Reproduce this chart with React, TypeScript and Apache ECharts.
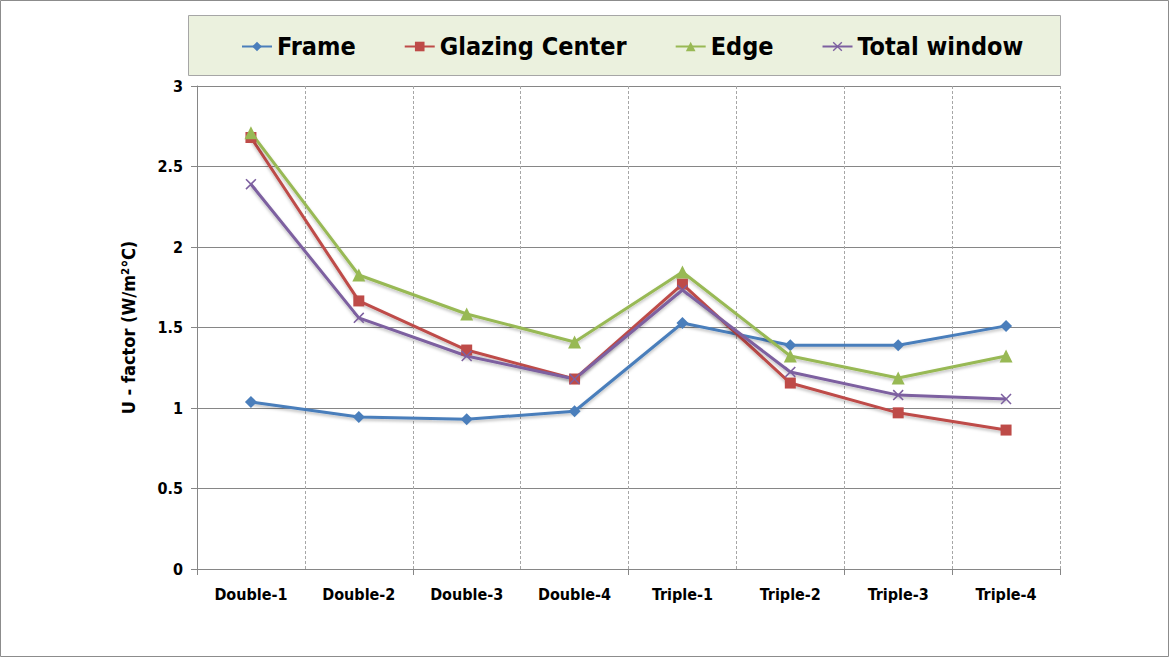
import React, { useEffect, useRef } from "react";
import * as echarts from "echarts";

const categories = ["Double-1", "Double-2", "Double-3", "Double-4", "Triple-1", "Triple-2", "Triple-3", "Triple-4"];
const frame = [1.037, 0.944, 0.93, 0.98, 1.528, 1.39, 1.39, 1.51];
const glazingCenter = [2.68, 1.665, 1.36, 1.18, 1.77, 1.155, 0.97, 0.863];
const edge = [2.71, 1.826, 1.584, 1.41, 1.845, 1.323, 1.186, 1.323];
const totalWindow = [2.39, 1.56, 1.323, 1.18, 1.733, 1.224, 1.08, 1.056];

const FONT = "'Liberation Sans Narrow', 'DejaVu Sans Condensed', 'Liberation Sans', sans-serif";
const XSYM = "path://M1,0 L5,4 L9,0 L10,1 L6,5 L10,9 L9,10 L5,6 L1,10 L0,9 L4,5 L0,1 Z";

export default function App() {
  const ref = useRef<HTMLDivElement>(null);
  useEffect(() => {
    const chart = echarts.init(ref.current!, null, { renderer: "svg" });
    const mk = (name: string, data: number[], color: string, symbol: string, size: number) => ({
      name,
      type: "line",
      data,
      symbol,
      symbolSize: size,
      lineStyle: { color, width: 3, shadowColor: "rgba(0,0,0,0.25)", shadowBlur: 3, shadowOffsetY: 2 },
      itemStyle: { color },
    });
    chart.setOption({
      animation: false,
      backgroundColor: "#ffffff",
      graphic: [
        { type: "rect", shape: { x: 0.5, y: 0.5, width: 1168, height: 656 }, style: { fill: "none", stroke: "#8c8c8c", lineWidth: 1 }, z: -10 },
        { type: "rect", shape: { x: 188.5, y: 15.5, width: 872, height: 60 }, style: { fill: "#EBF1DE", stroke: "#A6A6A6", lineWidth: 1 }, z: -5 },
      ],
      legend: {
        top: 29,
        left: 236,
        itemWidth: 30,
        itemHeight: 12,
        itemGap: 48,
        textStyle: { fontFamily: FONT, fontWeight: "bold", fontSize: 25, color: "#000" },
        data: ["Frame", "Glazing Center", "Edge", "Total window"],
      },
      grid: { left: 197, right: 110, top: 86, bottom: 89, containLabel: false },
      xAxis: {
        type: "category",
        data: categories,
        boundaryGap: true,
        axisLine: { lineStyle: { color: "#868686", width: 1 } },
        axisTick: { show: true, interval: 1, length: 6, lineStyle: { color: "#868686" } },
        axisLabel: { interval: 0, margin: 17, fontFamily: FONT, fontWeight: "bold", fontSize: 16, color: "#000" },
        splitLine: { show: true, interval: 0, lineStyle: { color: "#A6A6A6", type: [3, 2], width: 1 } },
      },
      yAxis: {
        type: "value",
        min: 0,
        max: 3,
        interval: 0.5,
        name: "U - factor (W/m²℃)",
        nameLocation: "middle",
        nameGap: 60,
        nameTextStyle: { fontFamily: FONT, fontWeight: "bold", fontSize: 18, color: "#000" },
        axisLine: { show: true, lineStyle: { color: "#868686" } },
        axisTick: { show: true, length: 6, lineStyle: { color: "#868686" } },
        axisLabel: { margin: 14, fontFamily: FONT, fontWeight: "bold", fontSize: 16, color: "#000" },
        splitLine: { show: true, lineStyle: { color: "#868686", width: 1 } },
      },
      series: [
        mk("Frame", frame, "#4A7EBB", "diamond", 12),
        mk("Glazing Center", glazingCenter, "#BE4B48", "rect", 11),
        mk("Edge", edge, "#98B954", "triangle", 13),
        mk("Total window", totalWindow, "#7D60A0", XSYM, 11),
      ],
    });
    return () => chart.dispose();
  }, []);
  return <div ref={ref} style={{ position: "fixed", left: 0, top: 0, width: 1170, height: 658 }} />;
}
